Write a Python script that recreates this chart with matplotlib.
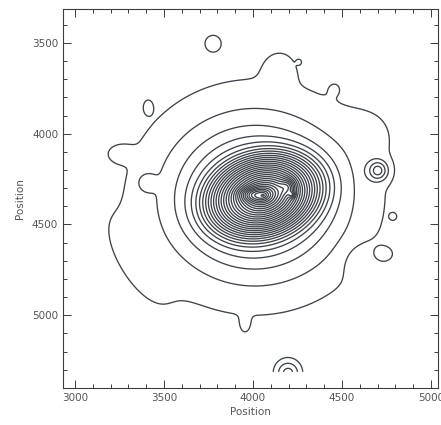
import numpy as np
import matplotlib
matplotlib.use('Agg')
import matplotlib.pyplot as plt
from matplotlib.ticker import MultipleLocator

# smooth envelope of the galaxy (ellipse, exponential fall-off, capped)
env_center = (4010, 4350)
env_radius = 730      # radius of the lowest contour along x
env_scale = 260
env_q = 0.89
env_cap = 8.0

# steep inner core (cone-like profile)
core_center = (4060, 4340)
core_radius = 385
core_slope = 0.058
core_q = 0.68
core_angle = -15

# compact sources and lumps: x, y, amplitude, sigma_u, sigma_v, angle
src_x = [3994, 4197, 4219, 3775, 4258, 3410, 3400, 4702, 4787, 4730, 4197,
         3250, 4150, 3955, 3340, 4600, 4680, 4461]
src_y = [4335, 4291, 4335, 3500, 3605, 3852, 4270, 4203, 4456, 4665, 5320,
         4110, 3640, 5060, 4730, 4700, 3980, 3745]
src_amp = [3.0, 2.5, 2.5, 1.18, 0.9, 0.8, 1.4, 3.4, 1.0, 0.93, 3.2,
           0.9, 1.1, 0.45, 0.6, -0.7, 0.45, 0.35]
src_su = [50, 28, 12, 40, 10, 20, 34, 38, 12, 40, 49, 50, 60, 25, 250, 70, 130, 35]
src_sv = [25, 28, 12, 40, 10, 30, 34, 38, 12, 30, 49, 35, 65, 40, 85, 70, 130, 35]
src_ang = [0, 0, 0, 0, 0, 0, 0, 0, 0, 0, 0, 0, 0, 0, 57.7, 0, 0, 0]

levels = np.arange(1, 45)

x = np.arange(2940, 5041, 4)
y = np.arange(3320, 5316, 4)
X, Y = np.meshgrid(x, y)

def rot(cx, cy, ang):
    a = np.deg2rad(ang)
    dx, dy = X - cx, Y - cy
    return dx*np.cos(a) + dy*np.sin(a), -dx*np.sin(a) + dy*np.cos(a)

u, v = rot(env_center[0], env_center[1], 0)
E = np.exp((env_radius - np.hypot(u, v/env_q))/env_scale)
Z = E/(1 + (E/env_cap)**4)**0.25
u, v = rot(core_center[0], core_center[1], core_angle)
w = 40.0
Z += core_slope*w*np.logaddexp(0, (core_radius - np.hypot(u, v/core_q))/w)
for cx, cy, a_, su, sv, ang in zip(src_x, src_y, src_amp, src_su, src_sv, src_ang):
    u, v = rot(cx, cy, ang)
    Z += a_*np.exp(-(u**2/(2*su**2) + v**2/(2*sv**2)))

fig = plt.figure(figsize=(4.41, 4.25), dpi=100)
ax = fig.add_axes([63/441, 1-388/425, 375/441, 379/425])
ax.contour(X, Y, Z, levels=levels, colors='#3d4348', linewidths=0.95)

ax.set_xlim(2933, 5039)
ax.set_ylim(5401, 3313)
ax.xaxis.set_major_locator(MultipleLocator(500))
ax.xaxis.set_minor_locator(MultipleLocator(100))
ax.yaxis.set_major_locator(MultipleLocator(500))
ax.yaxis.set_minor_locator(MultipleLocator(100))
ax.tick_params(which='both', direction='in', top=True, right=True,
               colors='#3a3f44', labelcolor='#555555', labelsize=7.5, width=0.7)
ax.tick_params(which='major', length=6)
ax.tick_params(which='minor', length=3)
for s in ax.spines.values():
    s.set_color('#3a3f44')
    s.set_linewidth(0.8)

ax.set_xlabel('Position', fontsize=7.5, color='#555555', labelpad=3)
ax.set_ylabel('Position', fontsize=7.5, color='#555555', labelpad=5)

fig.savefig('out.png', dpi=100)
